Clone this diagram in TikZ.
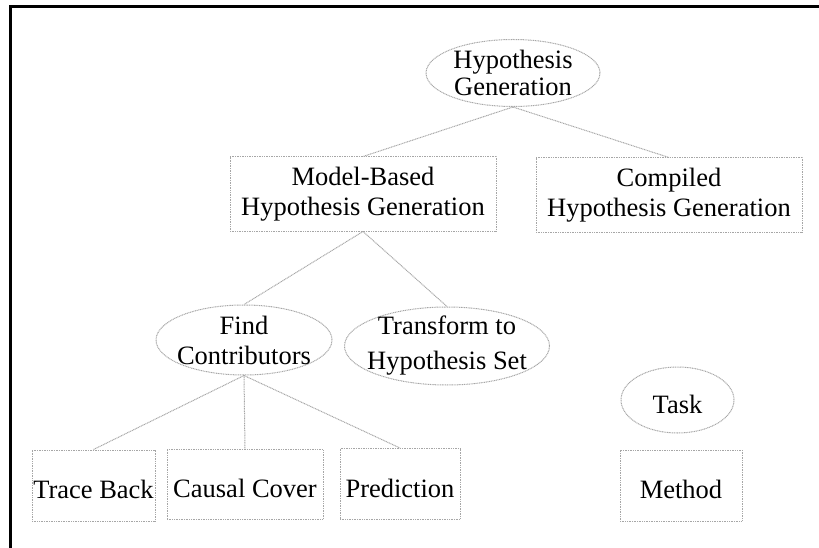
\documentclass[tikz,border=0pt]{standalone}
\usepackage{fontspec}
\setmainfont{Liberation Serif}
\usetikzlibrary{shapes.geometric}
\begin{document}
\begin{tikzpicture}[x=1pt,y=-1pt,
  every node/.style={font=\fontsize{26.5}{30}\selectfont, align=center, inner sep=0pt},
  oneline/.style={text height=26pt, text depth=0pt},
  taskshape/.style={ellipse, draw=gray!70, dash pattern=on 1pt off 0.7pt, line width=1pt, inner sep=-16pt},
  methodshape/.style={rectangle, draw=gray!70, dash pattern=on 1pt off 0.7pt, line width=1pt},
  link/.style={draw=gray!70, dash pattern=on 1pt off 0.7pt, line width=1pt}]
\useasboundingbox (0,0) rectangle (819,548);
\draw[line width=3pt, line join=miter] (10,549) -- (10,7) -- (820,7);

\node[taskshape, minimum width=174pt, minimum height=67pt] (hg) at (513,73) {Hypothesis\\[-3pt]Generation};
\node[methodshape, minimum width=266pt, minimum height=74pt] (mb) at (363,194) {Model-Based\\Hypothesis Generation};
\node[methodshape, minimum width=266pt, minimum height=74pt] (cg) at (669,195) {Compiled\\Hypothesis Generation};
\node[taskshape, minimum width=176pt, minimum height=70pt] (fc) at (244,340) {Find\\Contributors};
\node[taskshape, minimum width=205pt, minimum height=78pt] (th) at (447,346) {Transform to\\[5pt]Hypothesis Set};
\node[methodshape, oneline, minimum width=123pt, minimum height=71pt] (tb) at (93.5,485.5) {Trace Back};
\node[methodshape, oneline, minimum width=156pt, minimum height=70pt] (cc) at (245,484.5) {Causal Cover};
\node[methodshape, oneline, minimum width=120pt, minimum height=71pt] (pr) at (400,484) {Prediction};
\node[taskshape, oneline, minimum width=113pt, minimum height=66pt] (task) at (677.5,400) {Task};
\node[methodshape, oneline, minimum width=122pt, minimum height=71pt] (meth) at (681,485.5) {Method};

\path[link] (hg.south) -- (mb.north);
\path[link] (hg.south) -- (cg.north);
\path[link] (mb.south) -- (fc.north);
\path[link] (mb.south) -- (th.north);
\path[link] (fc.south) -- (tb.north);
\path[link] (fc.south) -- (cc.north);
\path[link] (fc.south) -- (pr.north);
\end{tikzpicture}
\end{document}
